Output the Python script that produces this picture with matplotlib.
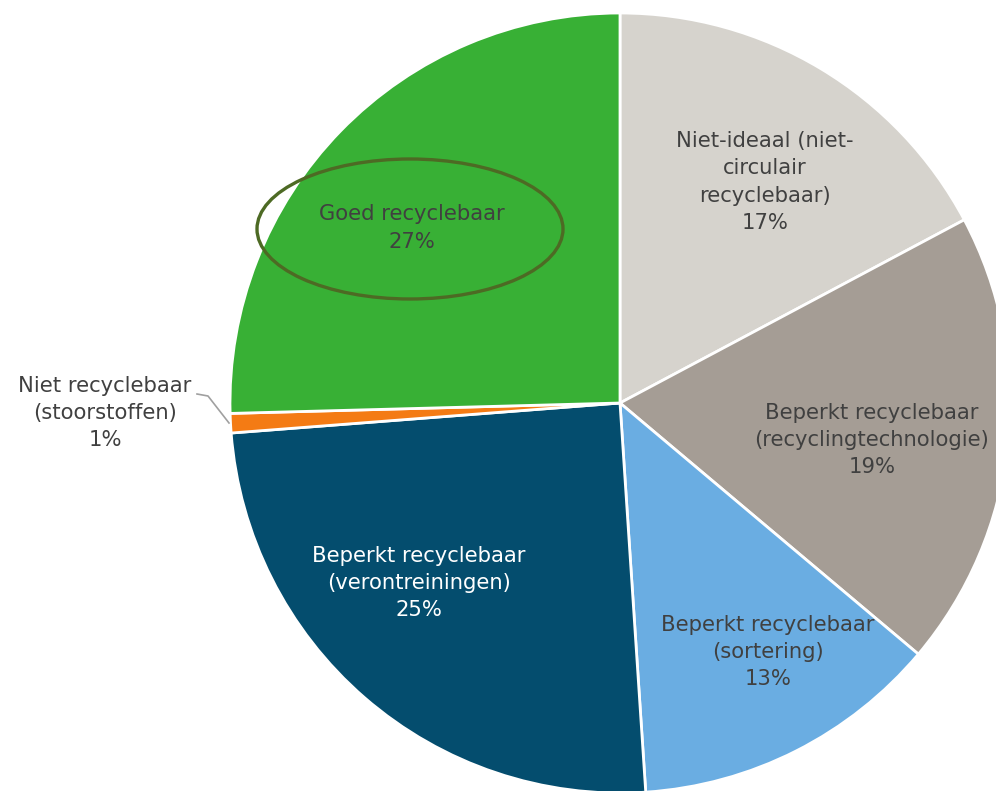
import matplotlib.pyplot as plt
from matplotlib.patches import Ellipse

# slice order: clockwise from the top
labels = [
    "Niet-ideaal (niet-\ncirculair\nrecyclebaar)\n17%",
    "Beperkt recyclebaar\n(recyclingtechnologie)\n19%",
    "Beperkt recyclebaar\n(sortering)\n13%",
    "Beperkt recyclebaar\n(verontreiningen)\n25%",
    "Niet recyclebaar\n(stoorstoffen)\n1%",
    "Goed recyclebaar\n27%",
]
# wedge sizes
sizes = [17.2, 18.9, 12.8, 24.8, 0.8, 25.4]
colors = ["#d6d3cd", "#a59d95", "#6aade2", "#044d6e", "#f47b14", "#38b035"]
text_colors = ["#404040", "#404040", "#404040", "#ffffff", "#404040", "#404040"]

W, H = 996, 791
center = (620, H - 403)
radius = 390

# label centres in pixel coords (y from top)
label_pos = [(765, 182), (872, 440), (768, 652), (419, 583), (105, 413), (412, 228)]

fig = plt.figure(figsize=(W / 100, H / 100), dpi=100)
ax = fig.add_axes([0, 0, 1, 1])

ax.pie(
    sizes,
    colors=colors,
    startangle=90,
    counterclock=False,
    radius=radius,
    center=center,
    wedgeprops=dict(edgecolor="white", linewidth=2),
)

for text, (x, y), c in zip(labels, label_pos, text_colors):
    ax.text(x, H - y, text, ha="center", va="center", color=c,
            fontsize=15.2, linespacing=1.45, family="DejaVu Sans")

# leader line for the small slice
ax.plot([197, 208, 229], [H - 394, H - 396, H - 423], color="#a0a0a0", lw=1.2)

# highlight ring around the "goed" label
ax.add_patch(Ellipse((410, H - 229), 306, 140, fill=False,
                     edgecolor="#4d6a24", linewidth=2.4))

ax.set_xlim(0, W)
ax.set_ylim(0, H)
ax.set_aspect("equal")
ax.axis("off")

fig.savefig("out.png", dpi=100)
